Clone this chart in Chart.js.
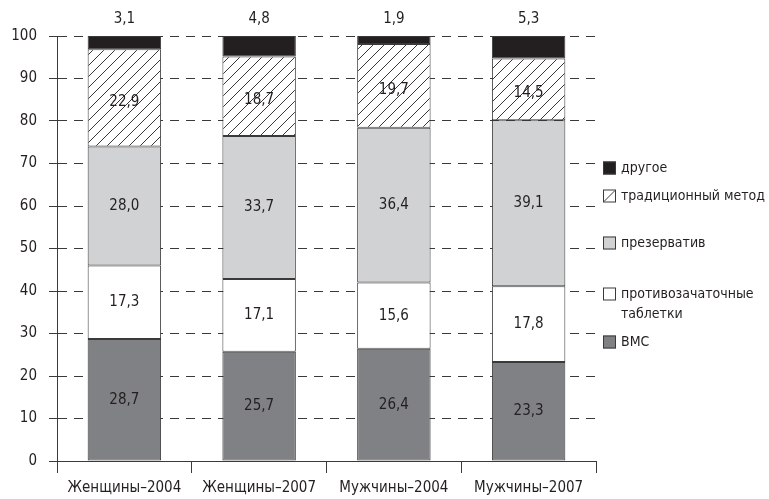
<!DOCTYPE html>
<html>
<head>
<meta charset="utf-8">
<script src="https://cdn.jsdelivr.net/npm/chart.js@4.4.0/dist/chart.umd.min.js"></script>
<style>
  html, body { margin: 0; padding: 0; background: #fff; }
  #wrap { width: 769px; height: 499px; }
</style>
</head>
<body>
<div id="wrap"><canvas id="chart" width="769" height="499"></canvas></div>
<script>
const categories = ["Женщины–2004", "Женщины–2007", "Мужчины–2004", "Мужчины–2007"];
const vms = [28.7, 25.7, 26.4, 23.3];
const pills = [17.3, 17.1, 15.6, 17.8];
const condom = [28.0, 33.7, 36.4, 39.1];
const traditional = [22.9, 18.7, 19.7, 14.5];
const other = [3.1, 4.8, 1.9, 5.3];
const yTicks = [0, 10, 20, 30, 40, 50, 60, 70, 80, 90, 100];

const FONT = "'DejaVu Sans Condensed', 'Liberation Sans Narrow', sans-serif";
const INK = "#231f20";

function hatch() {
  const c = document.createElement("canvas");
  c.width = 11; c.height = 11;
  const g = c.getContext("2d");
  g.fillStyle = "#fff";
  g.fillRect(0, 0, 11, 11);
  g.strokeStyle = INK;
  g.lineWidth = 0.9;
  g.beginPath();
  g.moveTo(-1, 12); g.lineTo(12, -1);
  g.stroke();
  return g.createPattern(c, "repeat");
}
const hatchFill = hatch();

const fmt = v => v.toFixed(1).replace(".", ",");

// value labels: inside segments, "другое" above the bar
const valueLabels = {
  id: "valueLabels",
  afterDatasetsDraw(chart) {
    const ctx = chart.ctx;
    ctx.save();
    ctx.font = "15px " + FONT;
    ctx.fillStyle = INK;
    ctx.textAlign = "center";
    ctx.textBaseline = "middle";
    chart.data.datasets.forEach((ds, i) => {
      chart.getDatasetMeta(i).data.forEach((bar, j) => {
        const txt = fmt(ds.data[j]);
        if (ds.label === "другое") {
          ctx.fillText(txt, bar.x, chart.chartArea.top - 17);
        } else {
          const pad = ds.label === "традиционный метод" ? 4 : 0;
          ctx.fillText(txt, bar.x, (bar.y + bar.base) / 2 + pad);
        }
      });
    });
    ctx.restore();
  }
};

// legend on the right, as in the original
const sideLegend = {
  id: "sideLegend",
  afterDraw(chart) {
    const ctx = chart.ctx;
    const items = [
      { fill: INK, lines: ["другое"], y: 168, diag: false },
      { fill: "#fff", lines: ["традиционный метод"], y: 196, diag: true },
      { fill: "#d1d2d4", lines: ["презерватив"], y: 243, diag: false },
      { fill: "#fff", lines: ["противозачаточные", "таблетки"], y: 294, diag: false },
      { fill: "#808184", lines: ["ВМС"], y: 342, diag: false }
    ];
    ctx.save();
    ctx.font = "14px " + FONT;
    ctx.textBaseline = "middle";
    ctx.textAlign = "left";
    items.forEach(it => {
      const x = 603, s = 13, top = it.y - 6.5;
      ctx.fillStyle = it.fill;
      ctx.fillRect(x, top, s, s);
      ctx.strokeStyle = "#3a3a3a";
      ctx.lineWidth = 1;
      ctx.strokeRect(x + 0.5, top + 0.5, s - 1, s - 1);
      if (it.diag) {
        ctx.beginPath();
        ctx.moveTo(x + 1, top + s - 1);
        ctx.lineTo(x + s - 1, top + 1);
        ctx.stroke();
      }
      ctx.fillStyle = INK;
      it.lines.forEach((l, k) => ctx.fillText(l, 621, it.y + k * 20));
    });
    ctx.restore();
  }
};

const common = { borderColor: "#3a3a3a", borderWidth: 1, borderSkipped: false };

new Chart(document.getElementById("chart"), {
  type: "bar",
  data: {
    labels: categories,
    datasets: [
      { label: "ВМС", data: vms, backgroundColor: "#808184", ...common },
      { label: "противозачаточные таблетки", data: pills, backgroundColor: "#ffffff", ...common },
      { label: "презерватив", data: condom, backgroundColor: "#d1d2d4", ...common },
      { label: "традиционный метод", data: traditional, backgroundColor: hatchFill, ...common },
      { label: "другое", data: other, backgroundColor: INK, ...common }
    ]
  },
  options: {
    responsive: false,
    animation: false,
    layout: { padding: { left: 0, right: 173, top: 36, bottom: 0 } },
    plugins: { legend: { display: false }, tooltip: { enabled: false } },
    datasets: { bar: { categoryPercentage: 0.545, barPercentage: 1 } },
    scales: {
      x: {
        stacked: true,
        border: { color: "#3a3a3a", width: 1 },
        grid: { drawOnChartArea: false, tickLength: 12, color: "#3a3a3a", offset: true },
        ticks: { color: INK, font: { family: FONT, size: 15 }, padding: 6, maxRotation: 0 },
        afterFit(s) { s.height = 38; }
      },
      y: {
        stacked: true,
        min: 0,
        max: 100,
        border: { color: "#3a3a3a", width: 1, dash: [9, 7] },
        grid: {
          color: "#3a3a3a",
          tickLength: 8,
          tickBorderDash: [],
          tickColor: "#3a3a3a"
        },
        afterBuildTicks(s) { s.ticks = yTicks.map(v => ({ value: v })); },
        ticks: { color: INK, font: { family: FONT, size: 15 }, padding: 12 },
        afterFit(s) { s.width = 57; }
      }
    }
  },
  plugins: [valueLabels, sideLegend]
});
</script>
</body>
</html>
